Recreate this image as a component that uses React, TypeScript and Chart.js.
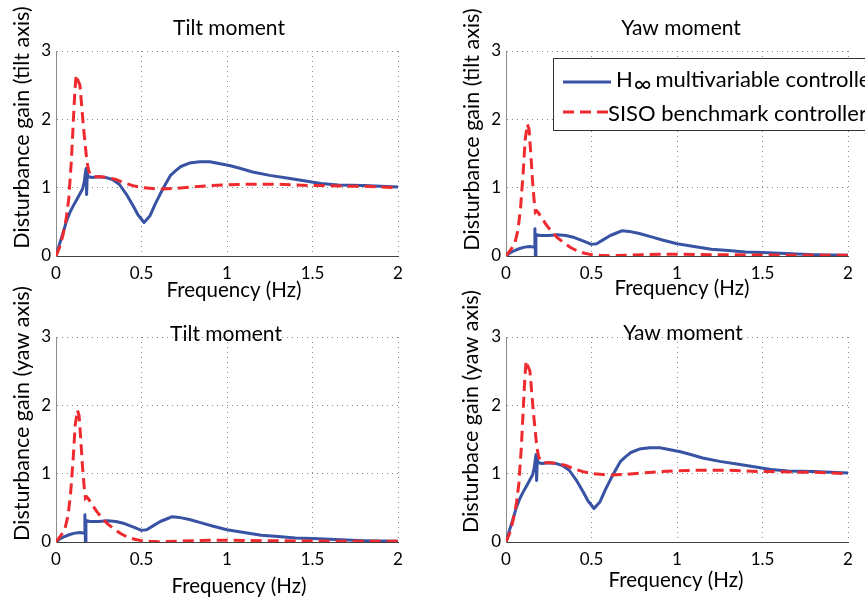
import React, { useEffect, useRef } from "react";
import { Chart, registerables } from "chart.js";

Chart.register(...registerables);

// ---------- data ----------
const freqHinfDirect = [0, 0.02, 0.04, 0.06, 0.08, 0.1, 0.12, 0.14, 0.155, 0.165, 0.172, 0.176, 0.179, 0.183, 0.19, 0.21, 0.25, 0.29, 0.33, 0.37, 0.41, 0.45, 0.48, 0.515, 0.55, 0.58, 0.61, 0.64, 0.67, 0.7, 0.73, 0.78, 0.84, 0.9, 0.96, 1.02, 1.08, 1.15, 1.25, 1.35, 1.45, 1.55, 1.65, 1.8, 2.0];
const gainHinfDirect = [0, 0.17, 0.33, 0.5, 0.63, 0.73, 0.82, 0.91, 0.98, 1.08, 1.22, 1.28, 0.9, 1.2, 1.16, 1.15, 1.16, 1.15, 1.12, 1.05, 0.91, 0.74, 0.6, 0.49, 0.59, 0.76, 0.91, 1.05, 1.18, 1.25, 1.31, 1.36, 1.38, 1.38, 1.35, 1.32, 1.28, 1.23, 1.18, 1.14, 1.1, 1.06, 1.04, 1.03, 1.01];

const freqSisoDirect = [0, 0.02, 0.04, 0.06, 0.075, 0.09, 0.1, 0.11, 0.118, 0.13, 0.14, 0.15, 0.16, 0.17, 0.18, 0.19, 0.2, 0.22, 0.26, 0.3, 0.35, 0.4, 0.45, 0.5, 0.55, 0.6, 0.7, 0.8, 0.9, 1.0, 1.1, 1.2, 1.3, 1.4, 1.5, 1.6, 1.7, 1.8, 1.9, 2.0];
const gainSisoDirect = [0, 0.12, 0.3, 0.55, 0.85, 1.4, 1.9, 2.4, 2.65, 2.56, 2.5, 2.2, 1.9, 1.65, 1.4, 1.26, 1.19, 1.16, 1.16, 1.15, 1.12, 1.07, 1.03, 1.0, 0.99, 0.98, 0.99, 1.01, 1.03, 1.04, 1.05, 1.05, 1.05, 1.04, 1.03, 1.03, 1.02, 1.02, 1.01, 1.0];

const freqHinfCross = [0, 0.02, 0.05, 0.08, 0.11, 0.14, 0.16, 0.166, 0.169, 0.172, 0.175, 0.18, 0.2, 0.25, 0.3, 0.35, 0.4, 0.45, 0.5, 0.53, 0.57, 0.61, 0.65, 0.68, 0.72, 0.78, 0.85, 0.92, 1.0, 1.1, 1.2, 1.3, 1.4, 1.5, 1.6, 1.8, 2.0];
const gainHinfCross = [0, 0.04, 0.08, 0.11, 0.13, 0.14, 0.13, 0.14, 0.4, 0.0, 0.28, 0.31, 0.3, 0.3, 0.31, 0.3, 0.27, 0.22, 0.17, 0.18, 0.24, 0.3, 0.34, 0.37, 0.36, 0.33, 0.28, 0.23, 0.18, 0.14, 0.1, 0.08, 0.06, 0.05, 0.04, 0.02, 0.01];

const freqSisoCross = [0, 0.03, 0.05, 0.07, 0.085, 0.1, 0.112, 0.125, 0.135, 0.145, 0.155, 0.165, 0.172, 0.18, 0.19, 0.21, 0.24, 0.27, 0.3, 0.34, 0.38, 0.42, 0.46, 0.5, 0.55, 0.6, 0.7, 0.8, 0.9, 1.0, 1.2, 1.4, 1.6, 1.8, 2.0];
const gainSisoCross = [0, 0.1, 0.17, 0.38, 0.7, 1.2, 1.7, 1.93, 1.85, 1.5, 1.1, 0.8, 0.64, 0.66, 0.63, 0.55, 0.44, 0.35, 0.27, 0.19, 0.12, 0.07, 0.04, 0.02, 0.01, 0.005, 0.01, 0.02, 0.025, 0.025, 0.02, 0.015, 0.012, 0.01, 0.01];

const xTicks = [0, 0.5, 1, 1.5, 2];
const yTicks = [0, 1, 2, 3];
const panelTitles = ["Tilt moment", "Yaw moment", "Tilt moment", "Yaw moment"];
const yAxisLabels = [
  "Disturbance gain (tilt axis)",
  "Disturbance gain (tilt axis)",
  "Disturbance gain (yaw axis)",
  "Disturbace gain (yaw axis)",
];
const xAxisLabel = "Frequency (Hz)";
const seriesNames = ["H∞ multivariable controller", "SISO benchmark controller"];
const legendParts = [["H", "∞", "multivariable controller"], ["", "", "SISO benchmark controller"]];

// ---------- style / layout ----------
const W = 865;
const H = 597;
const FONT = "Lato, 'Open Sans', sans-serif";
const BLUE = "#3953a4";
const RED = "#ee2a2e";
const Y_AXIS_W = 40;
const X_AXIS_H = 30;

type Panel = {
  fH: number[]; gH: number[]; fS: number[]; gS: number[];
  idx: number;
  area: { l: number; t: number; r: number; b: number };
  titleDx: number; titleDy: number;
  xLabDx: number; xLabDy: number;
  yLabDx: number; yLabDy: number;
  legend: boolean;
};

const panels: Panel[] = [
  { fH: freqHinfDirect, gH: gainHinfDirect, fS: freqSisoDirect, gS: gainSisoDirect, idx: 0,
    area: { l: 56, t: 51, r: 398, b: 256 }, titleDx: 2, titleDy: -16, xLabDx: 7, xLabDy: 41, yLabDx: -27, yLabDy: -26, legend: false },
  { fH: freqHinfCross, gH: gainHinfCross, fS: freqSisoCross, gS: gainSisoCross, idx: 1,
    area: { l: 506, t: 51, r: 848, b: 256 }, titleDx: 4, titleDy: -16, xLabDx: 5, xLabDy: 39, yLabDx: -27, yLabDy: -24, legend: true },
  { fH: freqHinfCross, gH: gainHinfCross, fS: freqSisoCross, gS: gainSisoCross, idx: 2,
    area: { l: 56, t: 337, r: 398, b: 542 }, titleDx: -1, titleDy: 4, xLabDx: 12, xLabDy: 51, yLabDx: -27, yLabDy: -26, legend: false },
  { fH: freqHinfDirect, gH: gainHinfDirect, fS: freqSisoDirect, gS: gainSisoDirect, idx: 3,
    area: { l: 506, t: 337, r: 848, b: 542 }, titleDx: 6, titleDy: 3, xLabDx: -1, xLabDy: 45, yLabDx: -28, yLabDy: -28, legend: false },
];

function makeLabelsPlugin(p: Panel) {
  return {
    id: "panelLabels" + p.idx,
    afterDraw(chart: any) {
      const ctx: CanvasRenderingContext2D = chart.ctx;
      const a = chart.chartArea;
      const cx = (a.left + a.right) / 2;
      const cy = (a.top + a.bottom) / 2;
      ctx.save();
      ctx.fillStyle = "#000";
      ctx.textBaseline = "alphabetic";
      ctx.textAlign = "center";
      // title
      ctx.font = `21px ${FONT}`;
      ctx.fillText(panelTitles[p.idx], cx + p.titleDx, a.top + p.titleDy);
      // x label
      ctx.font = `20.5px ${FONT}`;
      ctx.fillText(xAxisLabel, cx + p.xLabDx, a.bottom + p.xLabDy);
      // y label
      ctx.save();
      ctx.font = `21.5px ${FONT}`;
      ctx.translate(a.left + p.yLabDx, cy + p.yLabDy);
      ctx.rotate(-Math.PI / 2);
      ctx.fillText(yAxisLabels[p.idx], 0, 0);
      ctx.restore();

      if (p.legend) {
        const bx = a.left + 47.5;
        const by = a.top + 7.5;
        ctx.fillStyle = "#fff";
        ctx.fillRect(bx, by, 400, 72);
        ctx.strokeStyle = "#333";
        ctx.lineWidth = 1;
        ctx.strokeRect(bx, by, 400, 72);
        const lx0 = a.left + 57;
        const lx1 = a.left + 105;
        const rows = [
          { color: BLUE, dash: [] as number[], lineY: a.top + 31, base: a.top + 36 },
          { color: RED, dash: [11, 6], lineY: a.top + 61, base: a.top + 70 },
        ];
        rows.forEach((r, i) => {
          ctx.save();
          ctx.strokeStyle = r.color;
          ctx.lineWidth = 3;
          ctx.setLineDash(r.dash);
          ctx.beginPath();
          ctx.moveTo(lx0, r.lineY);
          ctx.lineTo(lx1, r.lineY);
          ctx.stroke();
          ctx.restore();
          const parts = legendParts[i];
          ctx.fillStyle = "#000";
          ctx.textAlign = "left";
          let x = i === 0 ? a.left + 110 : a.left + 102;
          ctx.font = `22px ${FONT}`;
          if (parts[0]) {
            ctx.fillText(parts[0], x, r.base);
            x += ctx.measureText(parts[0]).width + 1;
          }
          if (parts[1]) {
            ctx.font = `24px ${FONT}`;
            ctx.fillText(parts[1], x, r.base + 5);
            x += ctx.measureText(parts[1]).width + 4;
          }
          ctx.font = `22px ${FONT}`;
          ctx.fillText(parts[2], x, r.base);
        });
      }
      ctx.restore();
    },
  };
}

function PanelChart({ p }: { p: Panel }) {
  const ref = useRef<HTMLCanvasElement | null>(null);
  useEffect(() => {
    if (!ref.current) return;
    const chart = new Chart(ref.current, {
      type: "line",
      data: {
        datasets: [
          {
            label: seriesNames[0],
            data: p.fH.map((f, i) => ({ x: f, y: p.gH[i] })),
            borderColor: BLUE,
            borderWidth: 3,
            pointRadius: 0,
            tension: 0,
            fill: false,
            order: 1,
            borderJoinStyle: "round",
          },
          {
            label: seriesNames[1],
            data: p.fS.map((f, i) => ({ x: f, y: p.gS[i] })),
            borderColor: RED,
            borderWidth: 3,
            borderDash: [11, 6],
            pointRadius: 0,
            tension: 0,
            fill: false,
            order: 0,
          },
        ],
      },
      options: {
        responsive: false,
        animation: false,
        events: [],
        layout: {
          padding: {
            left: p.area.l - Y_AXIS_W,
            top: p.area.t,
            right: W - p.area.r,
            bottom: H - p.area.b - X_AXIS_H,
          },
        },
        plugins: { legend: { display: false }, tooltip: { enabled: false }, title: { display: false } },
        scales: {
          x: {
            type: "linear",
            min: 0,
            max: 2,
            afterBuildTicks: (s: any) => { s.ticks = xTicks.map((v) => ({ value: v })); },
            afterFit: (s: any) => { s.height = X_AXIS_H; },
            ticks: {
              callback: (v: any) => String(v),
              font: { family: FONT, size: 17 },
              color: "#000",
              padding: 7,
              maxRotation: 0,
              autoSkip: false,
            },
            grid: {
              color: (c: any) => (c.tick && c.tick.value === 0 ? "rgba(0,0,0,0)" : "#8a8a8a"),
              lineWidth: 1,
              drawTicks: false,
            },
            border: { display: true, color: "#404040", width: 1, dash: [1, 4] },
          },
          y: {
            type: "linear",
            min: 0,
            max: 3,
            afterBuildTicks: (s: any) => { s.ticks = yTicks.map((v) => ({ value: v })); },
            afterFit: (s: any) => { s.width = Y_AXIS_W; },
            ticks: {
              callback: (v: any) => String(v),
              font: { family: FONT, size: 17 },
              color: "#000",
              padding: 5,
              autoSkip: false,
            },
            grid: {
              color: (c: any) => (c.tick && c.tick.value === 0 ? "rgba(0,0,0,0)" : "#8a8a8a"),
              lineWidth: 1,
              drawTicks: false,
            },
            border: { display: true, color: "#8c8c8c", width: 1, dash: [1, 4] },
          },
        },
      },
      plugins: [makeLabelsPlugin(p)],
    } as any);
    return () => chart.destroy();
  }, [p]);
  return (
    <canvas
      ref={ref}
      width={W}
      height={H}
      style={{ position: "absolute", left: 0, top: 0, width: W, height: H }}
    />
  );
}

export default function App() {
  return (
    <div style={{ position: "fixed", left: 0, top: 0, width: W, height: H, background: "#fff", overflow: "hidden" }}>
      {panels.map((p) => (
        <PanelChart key={p.idx} p={p} />
      ))}
    </div>
  );
}
